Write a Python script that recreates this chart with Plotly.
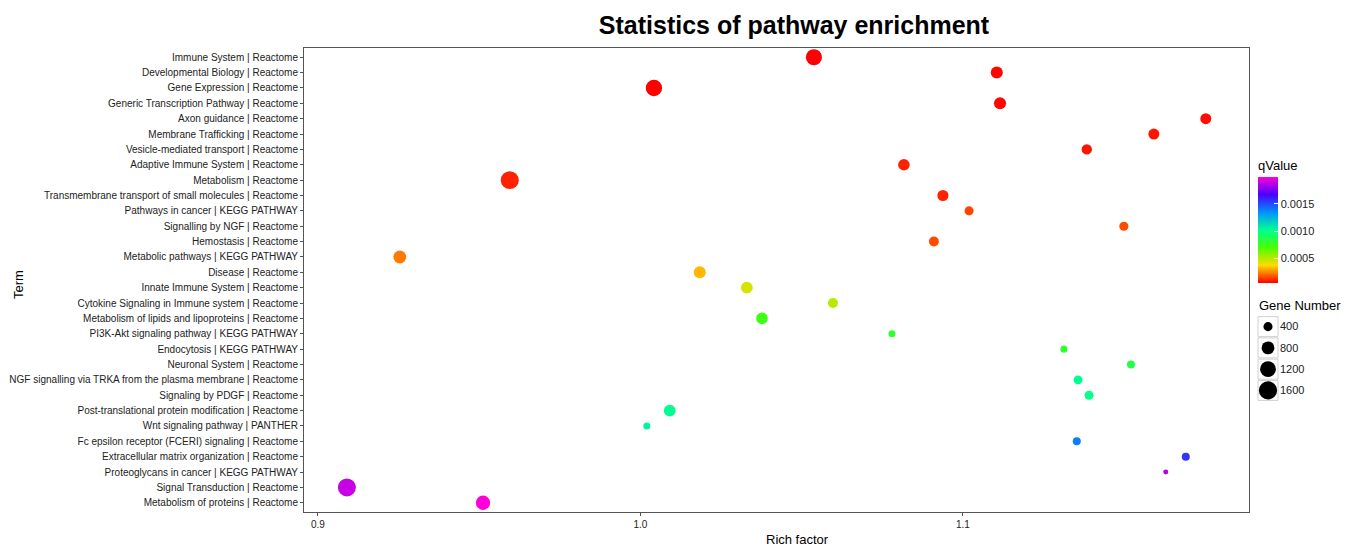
import plotly.graph_objects as go

terms = [
    "Immune System | Reactome",
    "Developmental Biology | Reactome",
    "Gene Expression | Reactome",
    "Generic Transcription Pathway | Reactome",
    "Axon guidance | Reactome",
    "Membrane Trafficking | Reactome",
    "Vesicle-mediated transport | Reactome",
    "Adaptive Immune System | Reactome",
    "Metabolism | Reactome",
    "Transmembrane transport of small molecules | Reactome",
    "Pathways in cancer | KEGG PATHWAY",
    "Signalling by NGF | Reactome",
    "Hemostasis | Reactome",
    "Metabolic pathways | KEGG PATHWAY",
    "Disease | Reactome",
    "Innate Immune System | Reactome",
    "Cytokine Signaling in Immune system | Reactome",
    "Metabolism of lipids and lipoproteins | Reactome",
    "PI3K-Akt signaling pathway | KEGG PATHWAY",
    "Endocytosis | KEGG PATHWAY",
    "Neuronal System | Reactome",
    "NGF signalling via TRKA from the plasma membrane | Reactome",
    "Signaling by PDGF | Reactome",
    "Post-translational protein modification | Reactome",
    "Wnt signaling pathway | PANTHER",
    "Fc epsilon receptor (FCERI) signaling | Reactome",
    "Extracellular matrix organization | Reactome",
    "Proteoglycans in cancer | KEGG PATHWAY",
    "Signal Transduction | Reactome",
    "Metabolism of proteins | Reactome",
]

rich_factor = [1.0538, 1.1105, 1.0042, 1.1115, 1.1753, 1.1592, 1.1384, 1.0817,
               0.9595, 1.0938, 1.1019, 1.1499, 1.0910, 0.9254, 1.0184, 1.0330,
               1.0597, 1.0377, 1.0780, 1.1313, 1.1521, 1.1357, 1.1391, 1.0091,
               1.0020, 1.1353, 1.1691, 1.1629, 0.9090, 0.9512]

q_value = [0.00005, 0.00006, 0.00005, 0.00006, 0.00007, 0.00008, 0.00008, 0.00010,
           0.00010, 0.00010, 0.00015, 0.00016, 0.00016, 0.00023, 0.00032, 0.00045,
           0.00050, 0.00075, 0.00080, 0.00080, 0.00086, 0.00102, 0.00100, 0.00102,
           0.00105, 0.00139, 0.00155, 0.00186, 0.00189, 0.00199]

gene_number = [1250, 700, 1300, 700, 580, 580, 520, 650,
               1560, 600, 400, 400, 480, 800, 700, 680,
               480, 650, 240, 240, 310, 390, 390, 680,
               240, 310, 310, 120, 1560, 1000]

legend_sizes = [400, 800, 1200, 1600]
q_ticks = [0.0005, 0.0010, 0.0015]
q_tick_text = ["0.0005", "0.0010", "0.0015"]
x_ticks = [0.9, 1.0, 1.1]
x_tick_text = ["0.9", "1.0", "1.1"]

rainbow7 = ["#FF0000", "#FFDB00", "#49FF00", "#00FF92", "#0092FF", "#4900FF", "#FF00DB"]
colorscale = [[i / 6, c] for i, c in enumerate(rainbow7)]

SIZEREF = 9.66
FONT = "Liberation Sans, Arial, sans-serif"

W, H = 1354, 546
ML, MR, MT, MB = 304, 10, 48, 34
PW = W - ML - MR          # paper width in px
PH = H - MT - MB          # paper height in px


def px_x(x):
    return (x - ML) / PW


def px_y(y):
    return (H - MB - y) / PH


fig = go.Figure()

fig.add_trace(go.Scatter(
    x=rich_factor, y=terms, mode="markers", showlegend=False,
    marker=dict(
        size=gene_number, sizemode="area", sizeref=SIZEREF, sizemin=1,
        color=q_value, colorscale=colorscale,
        cmin=min(q_value), cmax=max(q_value),
        line=dict(width=0), opacity=1,
        colorbar=dict(
            title=dict(text="qValue", side="top", font=dict(size=13, color="#000", family=FONT)),
            thickness=20, len=126, lenmode="pixels",
            x=px_x(1258), xanchor="left", xpad=0,
            y=px_y(157), yanchor="top", ypad=0,
            tickvals=q_ticks, ticktext=q_tick_text,
            ticks="inside", ticklen=4, tickcolor="white",
            outlinewidth=0, tickfont=dict(size=11, color="#222", family=FONT),
        ),
    ),
    customdata=gene_number,
    hovertemplate="%{y}<br>Rich factor: %{x}<br>qValue: %{marker.color}<br>Gene Number: %{customdata}<extra></extra>",
))

# size legend (drawn on a small auxiliary axis)
legend_labels = [str(v) for v in legend_sizes]
fig.add_trace(go.Scatter(
    x=[0] * len(legend_sizes), y=legend_labels, mode="markers", showlegend=False,
    xaxis="x2", yaxis="y2", hoverinfo="skip",
    marker=dict(symbol="square", size=20, color="white", opacity=1,
                line=dict(color="#d0d0d0", width=1)),
))
fig.add_trace(go.Scatter(
    x=[0] * len(legend_sizes), y=legend_labels, mode="markers", showlegend=False,
    xaxis="x2", yaxis="y2", hoverinfo="skip",
    marker=dict(size=legend_sizes, sizemode="area", sizeref=SIZEREF, color="black",
                opacity=1, line=dict(width=0)),
))

axis_line = "#555555"
fig.update_layout(
    width=W, height=H,
    margin=dict(l=ML, r=MR, t=MT, b=MB),
    paper_bgcolor="white", plot_bgcolor="white",
    font=dict(family=FONT, color="#222"),
    title=dict(text="<b>Statistics of pathway enrichment</b>", x=px_x(794), xref="paper", xanchor="center",
               y=1 - 25 / H, yref="container", yanchor="middle",
               font=dict(size=25, color="#000", family=FONT)),
    xaxis=dict(domain=[0, px_x(1249)], range=[0.8957, 1.1887], tickvals=x_ticks, ticktext=x_tick_text,
               ticks="outside", ticklen=3, tickcolor=axis_line, showline=True, mirror=True,
               linecolor=axis_line, linewidth=1, showgrid=False, zeroline=False,
               tickfont=dict(size=10, color="#222")),
    yaxis=dict(type="category", categoryorder="array", categoryarray=terms, range=[29.6, -0.6],
               ticks="outside", ticklen=3, tickcolor=axis_line, showline=True, mirror=True,
               linecolor=axis_line, linewidth=1, showgrid=False, zeroline=False,
               tickfont=dict(size=10, color="#222")),
    xaxis2=dict(domain=[px_x(1257), px_x(1279)], range=[-0.5, 0.5], visible=False, anchor="y2"),
    yaxis2=dict(domain=[px_y(401), px_y(316)], anchor="x2", type="category", categoryorder="array",
                categoryarray=legend_labels, range=[3.5, -0.5], side="right",
                showgrid=False, zeroline=False, showline=False, ticks="",
                tickfont=dict(size=11, color="#222")),
    annotations=[
        dict(text="Term", x=px_x(18), y=px_y(285), xref="paper", yref="paper", textangle=-90,
             xanchor="center", yanchor="middle",
             showarrow=False, font=dict(size=13, color="#000")),
        dict(text="Rich factor", x=px_x(797), y=px_y(539), xref="paper", yref="paper",
             showarrow=False, yanchor="middle", font=dict(size=13, color="#000")),
        dict(text="Gene Number", x=px_x(1257), y=px_y(305), xref="paper", yref="paper",
             xanchor="left", yanchor="middle", showarrow=False, font=dict(size=13, color="#000")),
    ],
)

fig.write_html("out.html", config={"displayModeBar": False},
               post_script="document.body.style.margin='0';document.body.style.overflow='hidden';")
